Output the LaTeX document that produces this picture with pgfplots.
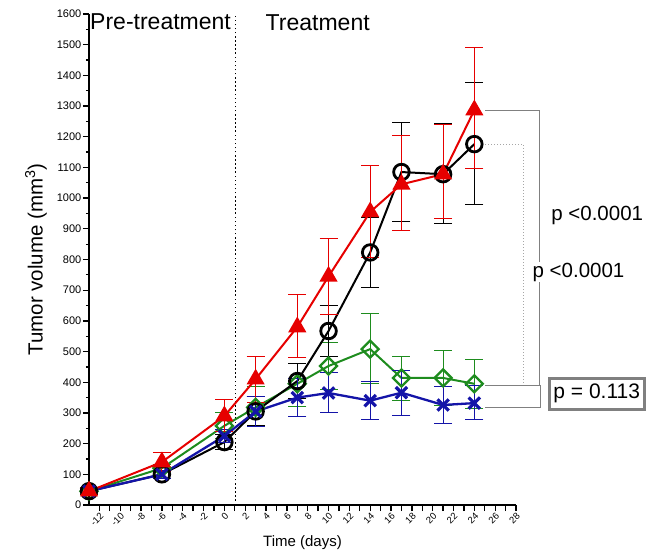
\documentclass[border=0pt]{standalone}
\usepackage{pgfplots}
\usepackage{pgfplotstable}
\pgfplotsset{compat=1.18}
\usepackage{fontspec}
\setmainfont{Liberation Sans}
\definecolor{cred}{HTML}{E60000}
\definecolor{cgreen}{HTML}{1E8C1E}
\definecolor{cblue}{HTML}{1414A8}
\definecolor{cgray}{HTML}{808080}

\pgfplotstableread{
x y ep em
-13 45 12 12
-6 140 30 30
0 290 55 50
3 410 75 75
7 580 107 100
10 745 125 125
14 955 150 150
17 1045 158 150
21 1078 163 146
24 1287 203 192
}\redt
\pgfplotstableread{
x y ep em
-13 45 10 10
-6 100 12 12
0 205 25 25
3 305 47 47
7 404 56 56
10 567 83 82
14 823 115 113
17 1085 162 162
21 1078 166 160
24 1176 200 198
}\blackt
\pgfplotstableread{
x y ep em
-13 45 10 10
-6 120 12 12
0 258 42 42
3 318 67 63
7 395 67 75
10 453 75 75
14 508 117 111
17 414 69 72
21 414 91 90
24 395 80 80
}\greent
\pgfplotstableread{
x y ep em
-13 45 10 10
-6 100 12 12
0 225 20 20
3 305 50 50
7 350 62 62
10 365 67 65
14 340 64 60
17 366 71 73
21 326 59 59
24 332 58 52
}\bluet

\begin{document}
\begin{tikzpicture}
\begin{axis}[
  width=427pt, height=491pt, scale only axis,
  xmin=-13, xmax=28, ymin=0, ymax=1600,
  axis lines=left, axis line style={-, line width=1.6pt},
  tick align=outside, major tick length=6pt, minor tick length=3pt,
  every tick/.style={line width=1.3pt, black},
  xtick={-12,...,28},
  xticklabels={-12,,-10,,-8,,-6,,-4,,-2,,0,,2,,4,,6,,8,,10,,12,,14,,16,,18,,20,,22,,24,,26,,28},
  ytick={0,100,...,1600}, minor ytick={50,150,...,1550},
  /pgf/number format/assume math mode=true,
  /pgf/number format/set thousands separator={},
  yticklabel style={font=\fontsize{11}{12}\selectfont, inner sep=1.5pt},
  xticklabel style={font=\fontsize{9.5}{11}\selectfont, rotate=45, anchor=north east, inner sep=0.5pt},
  clip=false,
  xlabel={Time (days)},
  ylabel={Tumor volume (mm\textsuperscript{3})},
  every axis x label/.style={at={(axis description cs:0.5,0)}, anchor=center, yshift=-38pt, font=\fontsize{15}{17}\selectfont},
  every axis y label/.style={at={(axis description cs:-0.124,0.5)}, rotate=90, anchor=center, font=\fontsize{20.5}{23}\selectfont},
]
% phase separator
\draw[black, line width=1.5pt, dash pattern=on 1.5pt off 2.6pt] (axis cs:1.06,0) -- (axis cs:1.06,1600);
\node[anchor=base west, inner sep=0pt, font=\fontsize{23}{26}\selectfont] at (axis cs:-12.9,1548) {Pre-treatment};
\node[anchor=base west, inner sep=0pt, font=\fontsize{23}{26}\selectfont] at (axis cs:3.95,1545) {Treatment};

% green
\addplot[cgreen, line width=2pt, mark=square, mark size=6pt, mark options={rotate=45, line width=2.3pt, fill=none, solid},
  error bars/.cd, y dir=both, y explicit,
  error bar style={line width=1pt, cgreen},
  error mark options={rotate=90, mark size=9pt, line width=1pt, cgreen}]
  table[x=x, y=y, y error plus=ep, y error minus=em] {\greent};
% black
\addplot[black, line width=2pt, mark=o, mark size=7.8pt, mark options={line width=2.8pt, solid},
  error bars/.cd, y dir=both, y explicit,
  error bar style={line width=1pt, black},
  error mark options={rotate=90, mark size=9pt, line width=1pt, black}]
  table[x=x, y=y, y error plus=ep, y error minus=em] {\blackt};
% blue
\addplot[cblue, line width=2.3pt, mark=x, mark size=8pt, mark options={line width=3.2pt, solid},
  error bars/.cd, y dir=both, y explicit,
  error bar style={line width=1pt, cblue},
  error mark options={rotate=90, mark size=9pt, line width=1pt, cblue}]
  table[x=x, y=y, y error plus=ep, y error minus=em] {\bluet};
% red
\addplot[cred, line width=2pt, mark=triangle*, mark size=8.5pt, mark options={solid, fill=cred},
  error bars/.cd, y dir=both, y explicit,
  error bar style={line width=1pt, cred},
  error mark options={rotate=90, mark size=9pt, line width=1pt, cred}]
  table[x=x, y=y, y error plus=ep, y error minus=em] {\redt};

% brackets
\draw[cgray, line width=1pt] (axis cs:25.07,1287) -- (axis cs:30.26,1287) -- (axis cs:30.26,391);
\draw[cgray, line width=1pt] (axis cs:25.07,391) -- (axis cs:30.35,391) -- (axis cs:30.35,319) -- (axis cs:25.07,319);
\draw[cgray!70, line width=1pt, dotted] (axis cs:25.07,1176) -- (axis cs:28.7,1176) -- (axis cs:28.7,391);
\node[font=\fontsize{20.5}{22}\selectfont, inner sep=1pt] at (axis cs:35.8,945) {p <0.0001};
\node[font=\fontsize{20.5}{22}\selectfont, inner sep=1pt, fill=white] at (axis cs:34.0,759) {p <0.0001};
\node[font=\fontsize{21}{22}\selectfont, draw=cgray, line width=3pt, inner xsep=4pt, inner ysep=6pt, fill=white] at (axis cs:35.75,363) {p = 0.113};
\end{axis}
\pgfresetboundingbox
\path[use as bounding box] (-89pt,-45pt) rectangle (558pt,505pt);
\end{tikzpicture}
\end{document}
